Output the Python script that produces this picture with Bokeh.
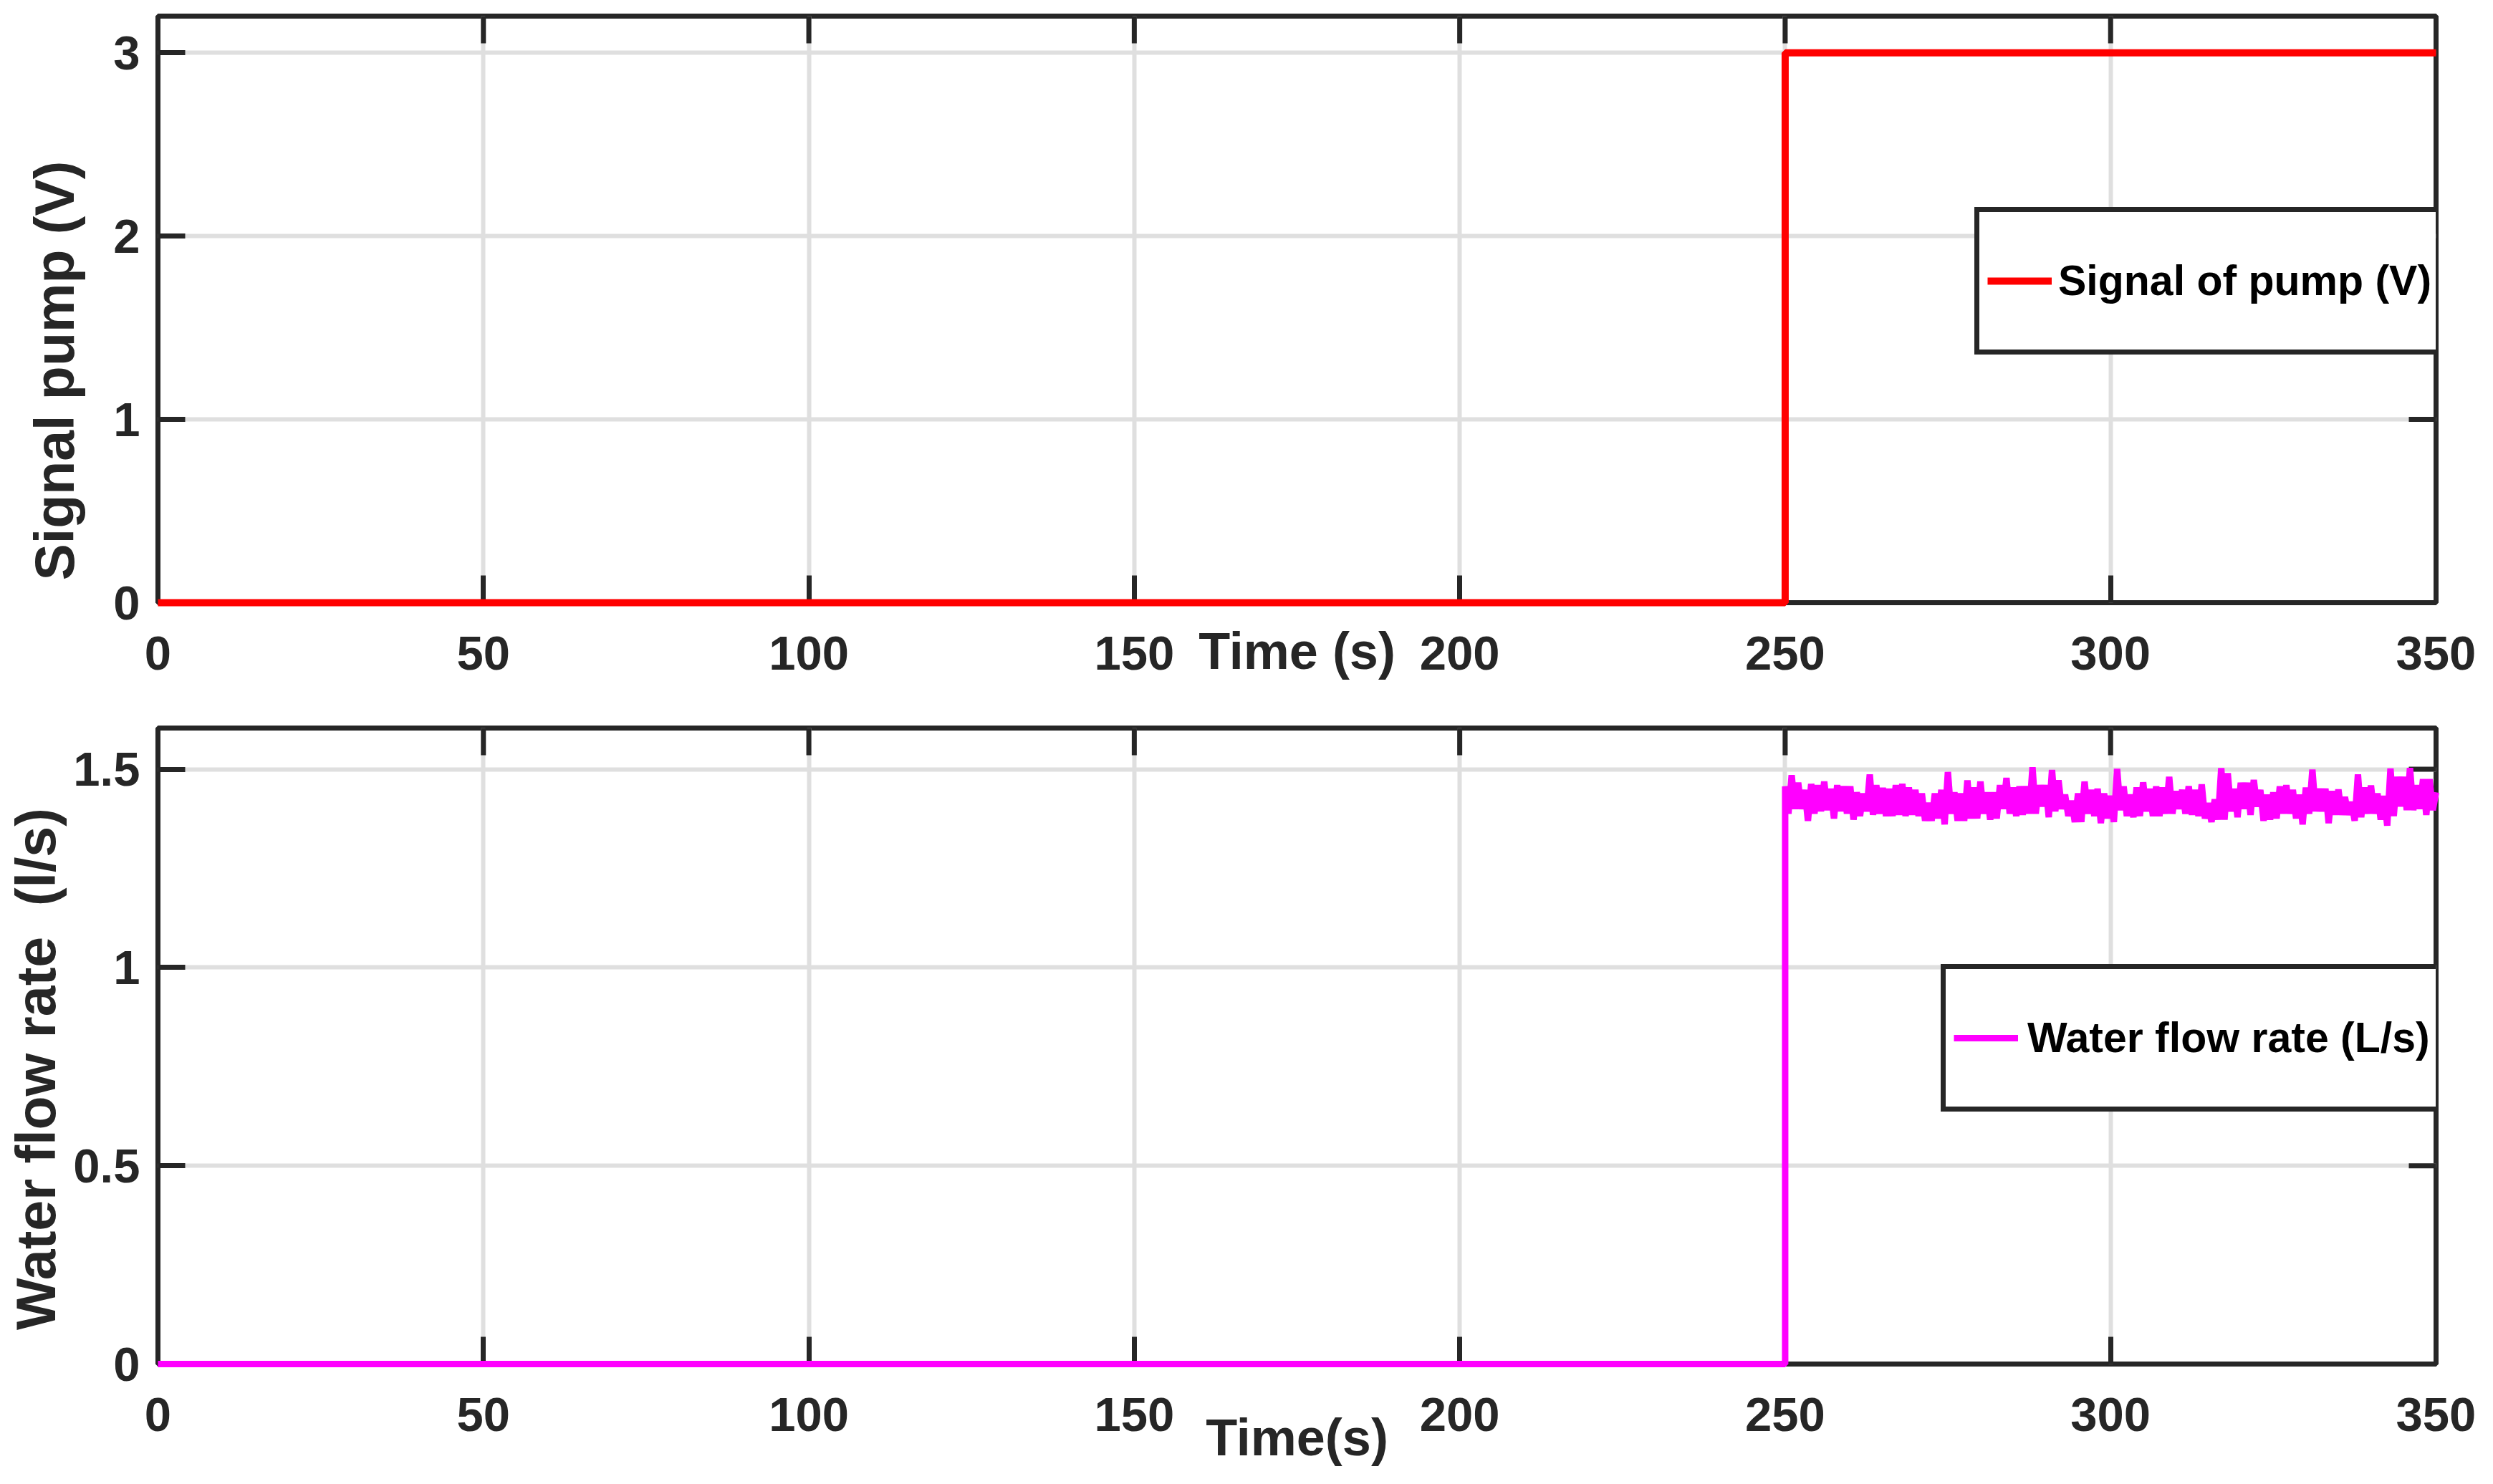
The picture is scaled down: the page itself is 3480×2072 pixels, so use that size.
import math
from bokeh.plotting import figure
from bokeh.layouts import column
from bokeh.models import Range1d, FixedTicker, Legend, LegendItem, ColumnDataSource
from bokeh.embed import file_html
from bokeh.resources import INLINE

# ---------------- data ----------------
x_ticks = [0, 50, 100, 150, 200, 250, 300, 350]
x_tick_labels = ["0", "50", "100", "150", "200", "250", "300", "350"]
y1_ticks = [0, 1, 2, 3]
y1_tick_labels = ["0", "1", "2", "3"]
y2_ticks = [0, 0.5, 1, 1.5]
y2_tick_labels = ["0", "0.5", "1", "1.5"]
x_lim = (0, 350)
y1_lim = (0, 3.2)
y2_lim = (0, 1.604)

# pump signal (V): step at t = 250 s
pump_t = [0, 250, 250, 350]
pump_v = [0, 0, 3, 3]

# water flow rate (L/s): zero before 250 s
flow_t_off = [0, 250]
flow_v_off = [0, 0]
# upper peaks, one per second from 250 s to 350 s
flow_upper = [1.457, 1.485, 1.466, 1.448, 1.463, 1.460, 1.469, 1.451, 1.460, 1.457,
              1.457, 1.442, 1.439, 1.487, 1.460, 1.453, 1.451, 1.460, 1.463, 1.454,
              1.448, 1.439, 1.415, 1.439, 1.448, 1.493, 1.442, 1.439, 1.472, 1.454,
              1.469, 1.442, 1.442, 1.460, 1.478, 1.454, 1.457, 1.457, 1.505, 1.460,
              1.460, 1.498, 1.472, 1.436, 1.421, 1.439, 1.469, 1.448, 1.451, 1.439,
              1.433, 1.501, 1.457, 1.436, 1.454, 1.467, 1.451, 1.457, 1.454, 1.481,
              1.445, 1.448, 1.457, 1.448, 1.462, 1.415, 1.424, 1.503, 1.490, 1.451,
              1.466, 1.466, 1.473, 1.448, 1.436, 1.442, 1.457, 1.460, 1.448, 1.436,
              1.454, 1.499, 1.451, 1.451, 1.445, 1.449, 1.430, 1.418, 1.487, 1.454,
              1.459, 1.439, 1.433, 1.502, 1.481, 1.481, 1.503, 1.460, 1.475, 1.475,
              1.442]
# lower troughs, one per second at 250.5 s ... 349.5 s
flow_lower = [1.388, 1.400, 1.400, 1.370, 1.388, 1.394, 1.397, 1.376, 1.394, 1.388,
              1.373, 1.382, 1.394, 1.385, 1.388, 1.382, 1.382, 1.385, 1.382, 1.385,
              1.382, 1.370, 1.370, 1.376, 1.361, 1.388, 1.370, 1.370, 1.376, 1.376,
              1.388, 1.373, 1.376, 1.400, 1.388, 1.382, 1.385, 1.388, 1.388, 1.406,
              1.379, 1.394, 1.400, 1.382, 1.367, 1.367, 1.388, 1.382, 1.364, 1.376,
              1.367, 1.397, 1.382, 1.379, 1.382, 1.394, 1.382, 1.382, 1.388, 1.388,
              1.400, 1.388, 1.385, 1.382, 1.376, 1.367, 1.373, 1.373, 1.394, 1.379,
              1.400, 1.385, 1.406, 1.370, 1.373, 1.376, 1.388, 1.388, 1.376, 1.361,
              1.388, 1.394, 1.394, 1.364, 1.385, 1.385, 1.385, 1.370, 1.379, 1.388,
              1.388, 1.373, 1.358, 1.382, 1.406, 1.397, 1.397, 1.400, 1.385, 1.397]
flow_start = 250

# build the flow series table from the read values
flow_t = list(flow_t_off)
flow_v = list(flow_v_off)
for i, u in enumerate(flow_upper):
    flow_t.append(flow_start + i)
    flow_v.append(u)
    if i < len(flow_lower):
        flow_t.append(flow_start + i + 0.5)
        flow_v.append(flow_lower[i])

# ---------------- styling ----------------
DARK = "#262626"
GRID = "#dfdfdf"
FONT = "Liberation Sans"
TICK_FS = "67px"
YLABEL_FS = "77px"
XLABEL_FS = "72px"
LEG_FS = "59px"
TICK_LEN = 38
NB = "\u00a0"


def style_fig(p, yticks, ylabels, ylim, xlabel, ylabel, xlab_standoff, ylab_standoff):
    p.outline_line_color = DARK
    p.outline_line_width = 7
    p.outline_line_alpha = 1
    p.background_fill_color = "white"
    p.border_fill_color = "white"

    p.xaxis.ticker = FixedTicker(ticks=x_ticks)
    p.xaxis.major_label_overrides = dict(zip(x_ticks, x_tick_labels))
    p.yaxis.ticker = FixedTicker(ticks=yticks)
    p.yaxis.major_label_overrides = dict(zip(yticks, ylabels))
    p.xgrid.ticker = FixedTicker(ticks=x_ticks)
    p.ygrid.ticker = FixedTicker(ticks=yticks)
    for g in (p.xgrid, p.ygrid):
        g.grid_line_color = GRID
        g.grid_line_width = 6

    for ax in (p.xaxis, p.yaxis):
        ax.axis_line_color = None
        ax.major_tick_in = TICK_LEN
        ax.major_tick_out = 0
        ax.major_tick_line_color = DARK
        ax.major_tick_line_width = 7
        ax.minor_tick_line_color = None
        ax.major_label_text_font = FONT
        ax.major_label_text_font_style = "bold"
        ax.major_label_text_font_size = TICK_FS
        ax.major_label_text_color = DARK
        ax.axis_label_text_font = FONT
        ax.axis_label_text_font_style = "bold"
        ax.axis_label_text_color = DARK
    p.xaxis.axis_label_text_font_size = XLABEL_FS
    p.yaxis.axis_label_text_font_size = YLABEL_FS
    p.xaxis.major_label_standoff = 47
    p.yaxis.major_label_standoff = 25
    p.xaxis.axis_label = xlabel
    p.yaxis.axis_label = ylabel
    p.xaxis.axis_label_standoff = xlab_standoff
    p.yaxis.axis_label_standoff = ylab_standoff

    # box ticks on the top and right edges (pointing inward)
    p.ray(x=x_ticks, y=[ylim[1]] * len(x_ticks), length=TICK_LEN, length_units="screen",
          angle=-math.pi / 2, line_color=DARK, line_width=7)
    p.ray(x=[x_lim[1]] * len(yticks), y=yticks, length=TICK_LEN, length_units="screen",
          angle=math.pi, line_color=DARK, line_width=7)


def add_legend(p, renderer, label, loc, standoff):
    leg = Legend(items=[LegendItem(label=label, renderers=[renderer])], location=loc)
    leg.border_line_color = DARK
    leg.border_line_width = 7
    leg.border_line_alpha = 1
    leg.background_fill_color = "white"
    leg.background_fill_alpha = 1
    leg.padding = 11
    leg.margin = 0
    leg.spacing = 0
    leg.glyph_width = 90
    leg.glyph_height = 170
    leg.label_height = 170
    leg.label_standoff = standoff
    leg.label_text_font = FONT
    leg.label_text_font_style = "bold"
    leg.label_text_font_size = LEG_FS
    leg.label_text_color = "black"
    p.add_layout(leg)


# ---------------- top figure ----------------
p1 = figure(width=3464, height=998, x_range=Range1d(*x_lim), y_range=Range1d(*y1_lim),
            output_backend="svg", toolbar_location=None,
            min_border_left=220, min_border_right=64, min_border_top=22, min_border_bottom=157)
style_fig(p1, y1_ticks, y1_tick_labels, y1_lim, "Time (s)", "Signal pump (V)" + NB * 8, -69, 36)
r1 = p1.line(pump_t, pump_v, line_color="#ff0000", line_width=10, level="overlay")
add_legend(p1, r1, "Signal of pump (V)", (2536, 346), 9)

# ---------------- bottom figure ----------------
src = ColumnDataSource(dict(t=flow_t, v=flow_v))
p2 = figure(width=3464, height=1060, x_range=Range1d(*x_lim), y_range=Range1d(*y2_lim),
            output_backend="svg", toolbar_location=None,
            min_border_left=220, min_border_right=64, min_border_top=18, min_border_bottom=154)
style_fig(p2, y2_ticks, y2_tick_labels, y2_lim, "Time(s)", "Water flow rate" + NB * 2 + "(l/s)" + NB * 3, -34, 6)
r2 = p2.line("t", "v", source=src, line_color="#ff00ff", line_width=9, level="overlay")
add_legend(p2, r2, "Water flow rate (L/s)", (2489, 352), 13)

layout = column(p1, p2)
open("out.html", "w").write(file_html(layout, INLINE))
